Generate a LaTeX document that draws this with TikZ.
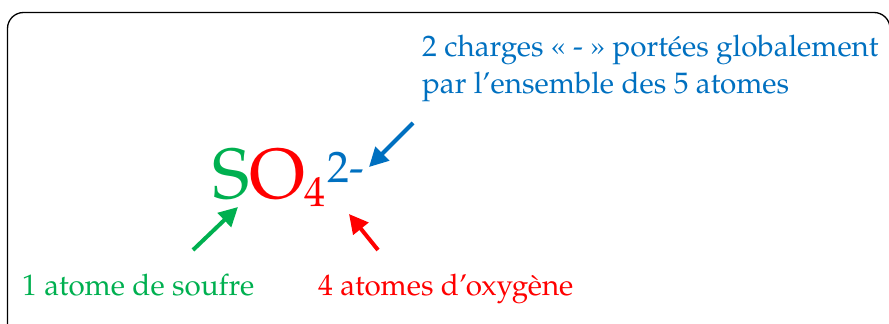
\documentclass[tikz,border=0pt]{standalone}
\usepackage{fontspec}
\setmainfont{TeX Gyre Pagella}
\usetikzlibrary{arrows.meta}
\definecolor{cgreen}{HTML}{00B050}
\definecolor{cred}{HTML}{FF0000}
\definecolor{cblue}{HTML}{0070C0}
\begin{document}
\begin{tikzpicture}[x=1pt,y=-1pt,
  txt/.style={inner sep=0pt, anchor=base west, font=\fontsize{29.6}{37}\selectfont},
  arr/.style={line width=4pt, -{Triangle[length=19pt,width=19pt]}}]
\clip (0,0) rectangle (889,324);
\draw[line width=1.3pt, rounded corners=16pt] (7.5,12.5) rectangle (890,345);
% formula
\node[txt, text=cgreen, font=\fontsize{71}{71}\selectfont] (S) at (212,198) {S};
\node[txt, text=cred, font=\fontsize{71}{71}\selectfont] (O) at (S.base east) {O};
\node[txt, text=cred, font=\fontsize{42}{42}\selectfont] (four) at (304,206) {4};
\node[txt, text=cblue, font=\fontsize{44}{44}\selectfont] (charge) at (327,182) {2-};
% labels
\node[txt, text=cblue] (blue1) at (422,56) {2 charges « - » portées globalement};
\node[txt, text=cblue] (blue2) at (422,93) {par l’ensemble des 5 atomes};
\node[txt, text=cgreen] (green) at (22,295) {1 atome de soufre};
\node[txt, text=cred] (red) at (318,295) {4 atomes d’oxygène};
% arrows
\coordinate (bt) at (413,123);
\coordinate (bh) at (369,167);
\coordinate (gt) at (193,250);
\coordinate (gh) at (238,207);
\coordinate (rt) at (378,250);
\coordinate (rh) at (349,214);
\draw[arr, cblue] (bt) -- (bh);
\draw[arr, cgreen] (gt) -- (gh);
\draw[arr, cred] (rt) -- (rh);
\end{tikzpicture}
\end{document}
